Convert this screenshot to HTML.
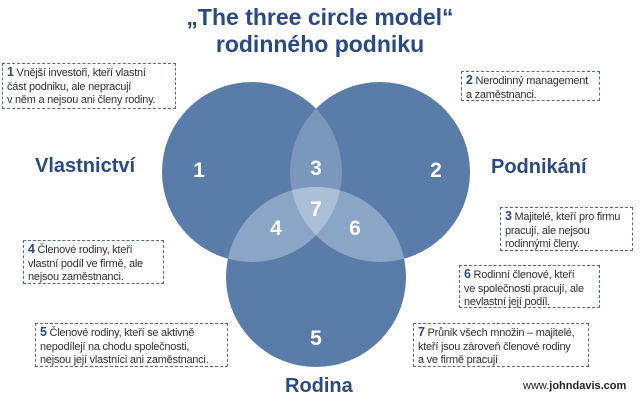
<!DOCTYPE html>
<html><head><meta charset="utf-8"><style>
body{margin:0;width:640px;height:401px;background:#fff;overflow:hidden;position:relative;font-family:"Liberation Sans",Arial,sans-serif}
.b{position:absolute;border:1px dashed #5a6f95;font-size:11px;letter-spacing:-0.25px;line-height:13.5px;color:#333;padding:2px 4px;box-sizing:border-box;white-space:nowrap}
.b b{color:#2a4a8a;font-size:12.5px}
.h{position:absolute;font-weight:bold;color:#2a4a85;white-space:nowrap}
</style></head><body>
<svg width="640" height="401" style="position:absolute;left:0;top:0">
<defs>
<clipPath id="A"><circle cx="252" cy="172" r="90"/></clipPath>
<clipPath id="C"><circle cx="316" cy="277" r="90"/></clipPath>
</defs>
<circle cx="252" cy="172" r="90" fill="#5a7ca8"/>
<circle cx="380" cy="172" r="90" fill="#5a7ca8"/>
<circle cx="316" cy="277" r="90" fill="#5a7ca8"/>
<g clip-path="url(#A)"><circle cx="380" cy="172" r="90" fill="#7b97bb"/></g>
<g clip-path="url(#C)"><circle cx="252" cy="172" r="90" fill="#8aa5c6"/><circle cx="380" cy="172" r="90" fill="#8aa5c6"/></g>
<g clip-path="url(#C)"><g clip-path="url(#A)"><circle cx="380" cy="172" r="90" fill="#abc0d7"/></g></g>
<g fill="#fff" font-family="Liberation Sans,Arial,sans-serif" font-weight="bold" font-size="21" text-anchor="middle">
<text x="199" y="177">1</text><text x="436" y="177">2</text><text x="316" y="175">3</text>
<text x="276" y="235">4</text><text x="355" y="235">6</text><text x="316" y="216">7</text><text x="316" y="345">5</text>
</g>
</svg>
<div class="h" style="left:0;width:640px;text-align:center;top:4px;font-size:23px;line-height:27px">„The three circle model“<br>rodinného podniku</div>
<div class="h" style="left:35px;top:155px;font-size:20px">Vlastnictví</div>
<div class="h" style="left:491px;top:156px;font-size:20px">Podnikání</div>
<div class="h" style="left:285px;top:375px;font-size:20px">Rodina</div>
<div class="b" style="left:2px;top:63px;width:174px;height:46px"><b>1</b> Vnější investoři, kteří vlastní<br>část podniku, ale nepracují<br>v něm a nejsou ani členy rodiny.</div>
<div class="b" style="left:461px;top:71px;width:139px;height:30px"><b>2</b> Nerodinný management<br>a zaměstnanci.</div>
<div class="b" style="left:500px;top:207px;width:133px;height:44px"><b>3</b> Majitelé, kteří pro firmu<br>pracují, ale nejsou<br>rodinnými členy.</div>
<div class="b" style="left:23px;top:240px;width:141px;height:44px"><b>4</b> Členové rodiny, kteří<br>vlastní podíl ve firmě, ale<br>nejsou zaměstnanci.</div>
<div class="b" style="left:35px;top:323px;width:193px;height:44px"><b>5</b> Členové rodiny, kteří se aktivně<br>nepodílejí na chodu společnosti,<br>nejsou její vlastníci ani zaměstnanci.</div>
<div class="b" style="left:459px;top:265px;width:141px;height:43px"><b>6</b> Rodinní členové, kteří<br>ve společnosti pracují, ale<br>nevlastní její podíl.</div>
<div class="b" style="left:413px;top:323px;width:176px;height:44px"><b>7</b> Průnik všech množin – majitelé,<br>kteří jsou zároveň členové rodiny<br>a ve firmě pracují</div>
<div style="position:absolute;left:523px;top:380px;font-size:11px;color:#222">www.<b>johndavis.com</b></div>
</body></html>
